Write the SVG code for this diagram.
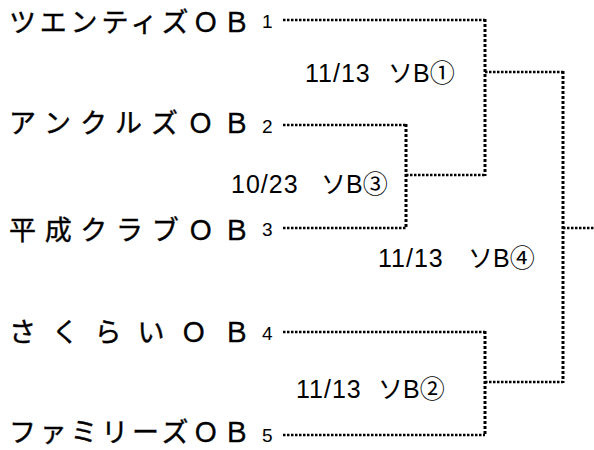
<svg xmlns="http://www.w3.org/2000/svg" width="594" height="450" viewBox="0 0 594 450">
<style>
.team{font-family:"Noto Sans CJK JP","Noto Sans CJK SC",sans-serif;font-size:27px;fill:#000;stroke:#000;stroke-width:0.4}
.num{font-family:"Liberation Sans","Noto Sans CJK JP",sans-serif;font-size:19px;fill:#000}
.lbl{font-family:"Liberation Sans","Noto Sans CJK JP",sans-serif;font-size:25px;fill:#000}
.d{letter-spacing:1px}
.h{stroke:#000;stroke-width:2.5;stroke-dasharray:2.5 1.5;fill:none}
.v{stroke:#000;stroke-width:3;stroke-dasharray:3 2;fill:none}
</style>
<rect width="594" height="450" fill="#fff"/>
<g id="connectors">
<line class="h" x1="283" y1="20" x2="485" y2="20"/>
<line class="h" x1="283" y1="125" x2="406" y2="125"/>
<line class="h" x1="283" y1="228" x2="406" y2="228"/>
<line class="h" x1="283" y1="332" x2="485" y2="332"/>
<line class="h" x1="283" y1="435" x2="485" y2="435"/>
<line class="v" x1="406" y1="124" x2="406" y2="229"/>
<line class="h" x1="406" y1="175" x2="485" y2="175"/>
<line class="v" x1="485" y1="19" x2="485" y2="176"/>
<line class="h" x1="485" y1="72" x2="563" y2="72"/>
<line class="v" x1="485" y1="331" x2="485" y2="436"/>
<line class="h" x1="485" y1="382" x2="563" y2="382"/>
<line class="v" x1="563" y1="71" x2="563" y2="383"/>
<line class="h" x1="563" y1="228" x2="594" y2="228"/>
</g>
<g id="team1"><text class="team" x="9" y="32" textLength="241" lengthAdjust="spacing">ツエンティズＯＢ</text><text class="num" x="262" y="28">1</text></g>
<g id="team2"><text class="team" x="9" y="133" textLength="241" lengthAdjust="spacing">アンクルズＯＢ</text><text class="num" x="262" y="133">2</text></g>
<g id="team3"><text class="team" x="9" y="240" textLength="241" lengthAdjust="spacing">平成クラブＯＢ</text><text class="num" x="262" y="236">3</text></g>
<g id="team4"><text class="team" x="9" y="342" textLength="241" lengthAdjust="spacing">さくらいＯＢ</text><text class="num" x="262" y="340">4</text></g>
<g id="team5"><text class="team" x="9" y="442" textLength="241" lengthAdjust="spacing">ファミリーズＯＢ</text><text class="num" x="262" y="442">5</text></g>
<g id="match1"><text class="lbl" x="305" y="82"><tspan class="d">11/13</tspan><tspan x="388">ソB①</tspan></text></g>
<g id="match3"><text class="lbl" x="231" y="193"><tspan class="d">10/23</tspan><tspan x="321">ソB③</tspan></text></g>
<g id="match4"><text class="lbl" x="378" y="267"><tspan class="d">11/13</tspan><tspan x="468">ソB④</tspan></text></g>
<g id="match2"><text class="lbl" x="296" y="398"><tspan class="d">11/13</tspan><tspan x="378">ソB②</tspan></text></g>
</svg>
